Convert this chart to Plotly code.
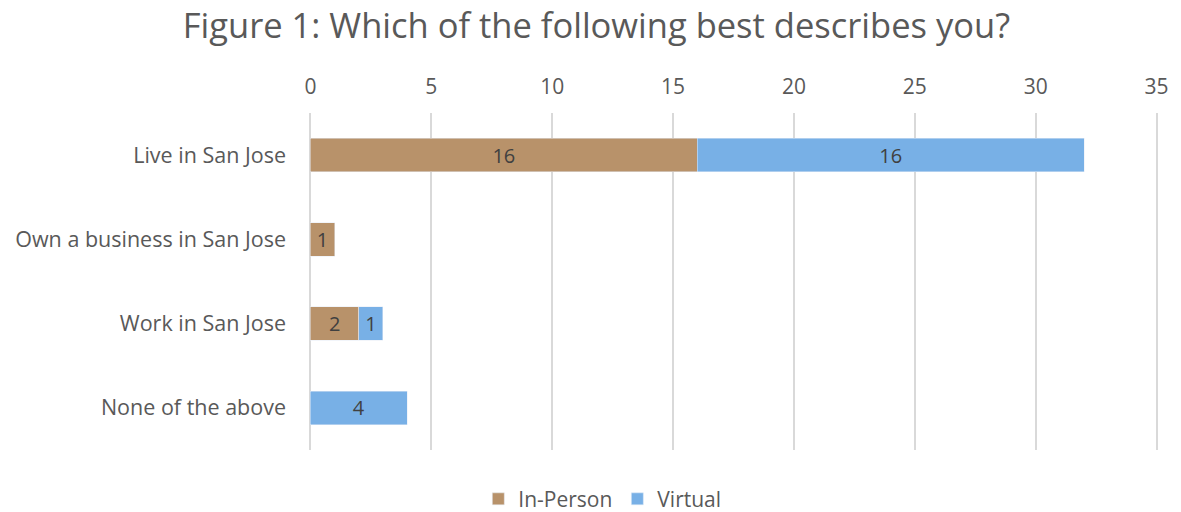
import plotly.graph_objects as go

categories = ["Live in San Jose", "Own a business in San Jose", "Work in San Jose", "None of the above"]
in_person = [16, 1, 2, None]
virtual = [16, None, 1, 4]

FONT = "Open Sans, Liberation Sans, Arial, sans-serif"

fig = go.Figure()
fig.add_trace(go.Bar(y=categories, x=in_person, name="In-Person", orientation="h",
                     marker=dict(color="#B8926A"),
                     text=[str(v) if v else "" for v in in_person], textposition="inside",
                     insidetextanchor="middle", textangle=0, constraintext="none",
                     textfont=dict(size=20, color="#404040")))
fig.add_trace(go.Bar(y=categories, x=virtual, name="Virtual", orientation="h",
                     marker=dict(color="#78B0E6"),
                     text=[str(v) if v else "" for v in virtual], textposition="inside",
                     insidetextanchor="middle", textangle=0, constraintext="none",
                     textfont=dict(size=20, color="#404040")))

fig.update_layout(
    barmode="stack",
    bargap=0.6,
    width=1181, height=512,
    margin=dict(l=309, r=14, t=113, b=62),
    paper_bgcolor="white", plot_bgcolor="white",
    font=dict(family=FONT, color="#595959", size=21),
    title=dict(text="Figure 1: Which of the following best describes you?",
               x=0.505, xref="container", xanchor="center", y=0.95, yanchor="middle",
               font=dict(size=34.5, color="#595959", family=FONT)),
    uniformtext=dict(minsize=10, mode="show"),
    xaxis=dict(side="top", range=[-0.06, 35.06], dtick=5, showgrid=True, gridcolor="#D9D9D9",
               gridwidth=2, zeroline=False, showline=False, ticks="",
               tickfont=dict(size=21, color="#595959"), ticklabelstandoff=14),
    yaxis=dict(autorange="reversed", showgrid=False, ticks="", ticklabelstandoff=22,
               tickfont=dict(size=21.5, color="#595959")),
    legend=dict(orientation="h", xref="container", x=0.51, xanchor="center",
                yref="container", y=0.025, yanchor="middle", traceorder="normal",
                font=dict(size=21, color="#595959"), itemwidth=30),
)
fig.write_html("out.html")
